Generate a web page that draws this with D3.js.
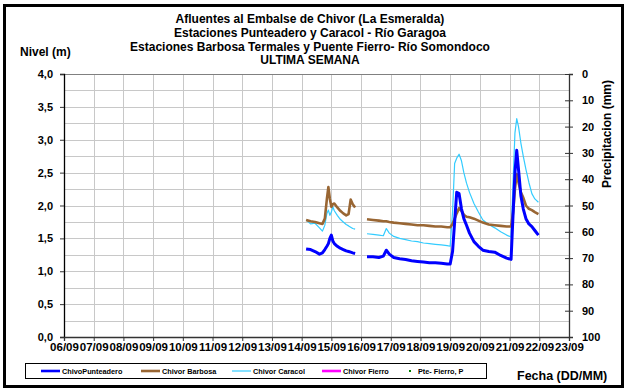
<!DOCTYPE html>
<html><head><meta charset="utf-8">
<script src="https://cdn.jsdelivr.net/npm/d3@7"></script>
<style>
body{margin:0;padding:0;background:#fff;}
svg{display:block;font-family:Arial,"Liberation Sans",sans-serif;}
</style></head>
<body>
<svg id="c" width="627" height="390"></svg>
<script>
// ---- data ----
const titleLines = ["Afluentes al Embalse de Chivor (La Esmeralda)",
  "Estaciones Punteadero y Caracol - Río Garagoa",
  "Estaciones Barbosa Termales y Puente Fierro- Río Somondoco",
  "ULTIMA SEMANA"];
const dayTicks = [6,7,8,9,10,11,12,13,14,15,16,17,18,19,20,21,22,23];
const dayLabels = ["06/09","07/09","08/09","09/09","10/09","11/09","12/09","13/09","14/09","15/09","16/09","17/09","18/09","19/09","20/09","21/09","22/09","23/09"];
const levelTicks = [0,0.5,1,1.5,2,2.5,3,3.5,4];
const precipTicks = [0,10,20,30,40,50,60,70,80,90,100];
// time in day-of-month (null = gap)
const times = [14.15,14.3,14.45,14.6,14.7,14.78,14.85,14.9,14.95,15.0,15.05,15.1,15.2,15.3,15.4,15.5,15.58,15.65,15.72,15.8,
  15.95,
  16.2,16.4,16.6,16.75,16.85,16.95,17.1,17.3,17.5,17.7,17.9,18.1,18.3,18.5,18.7,18.9,19.0,19.08,19.15,19.22,19.3,19.38,19.46,19.55,19.65,19.8,19.95,20.1,20.3,20.5,20.7,20.9,21.05,21.12,21.18,21.24,21.3,21.38,21.46,21.55,21.65,21.75,21.85,21.97];
const punteadero = [1.34,1.33,1.30,1.26,1.28,1.33,1.38,1.42,1.50,1.55,1.46,1.42,1.38,1.35,1.33,1.31,1.30,1.29,1.28,1.27,
  null,
  1.22,1.22,1.21,1.23,1.32,1.26,1.21,1.19,1.18,1.16,1.15,1.14,1.13,1.13,1.12,1.11,1.11,1.30,1.75,2.20,2.18,1.95,1.80,1.70,1.58,1.45,1.38,1.32,1.30,1.29,1.24,1.20,1.18,1.90,2.50,2.84,2.55,2.15,1.95,1.80,1.72,1.68,1.62,1.55];
const barbosa = [1.78,1.76,1.75,1.73,1.72,1.80,2.10,2.28,2.10,1.98,2.02,2.03,1.97,1.92,1.88,1.85,1.87,2.09,2.02,1.97,
  null,
  1.79,1.78,1.77,1.76,1.76,1.75,1.74,1.73,1.72,1.71,1.70,1.70,1.69,1.68,1.68,1.67,1.67,1.72,1.80,1.88,1.96,1.92,1.86,1.83,1.82,1.80,1.77,1.74,1.71,1.70,1.69,1.68,1.68,1.90,2.25,2.48,2.35,2.20,2.12,2.00,1.95,1.93,1.90,1.87];
const caracol = [1.78,1.72,1.73,1.66,1.61,1.70,1.88,1.93,1.85,1.90,1.98,1.92,1.85,1.79,1.75,1.71,1.69,1.67,1.65,1.64,
  null,
  1.57,1.56,1.55,1.54,1.65,1.58,1.53,1.50,1.48,1.46,1.45,1.43,1.42,1.41,1.40,1.39,1.38,1.90,2.64,2.72,2.78,2.68,2.50,2.34,2.20,2.03,1.90,1.78,1.71,1.66,1.60,1.55,1.52,2.40,3.10,3.32,3.20,2.95,2.75,2.55,2.35,2.18,2.10,2.05];
const fierro = [];      // no data in this week
const pteFierroP = [];  // no data in this week
const seriesNames = ["ChivoPunteadero","Chivor Barbosa","Chivor Caracol","Chivor Fierro","Pte- Fierro, P"];
const seriesColors = ["#0000ff","#996633","#33ccff","#ff00ff","#008000"];

// ---- drawing ----
const svg = d3.select("#c");
const L = 64, R = 569, T = 74, B = 337;
const x = d3.scaleLinear().domain([6,23]).range([L,R]);
const y = d3.scaleLinear().domain([0,4]).range([B,T]);
const y2 = d3.scaleLinear().domain([0,100]).range([T,B]);

svg.append("rect").attr("x",4.5).attr("y",5.5).attr("width",618).attr("height",381)
  .attr("fill","#fff").attr("stroke","#000").attr("stroke-width",3);

// gridlines
const g = svg.append("g");
g.selectAll("line.h").data(d3.range(0,4.01,0.25)).join("line")
  .attr("x1",L).attr("x2",R).attr("y1",d=>Math.round(y(d))+0.5).attr("y2",d=>Math.round(y(d))+0.5)
  .attr("stroke","#c8c8c8").attr("stroke-width",1);
g.selectAll("line.v").data(dayTicks.slice(1,-1)).join("line")
  .attr("y1",T).attr("y2",B).attr("x1",d=>Math.round(x(d))+0.5).attr("x2",d=>Math.round(x(d))+0.5)
  .attr("stroke","#c8c8c8").attr("stroke-width",1);
// top border line
svg.append("line").attr("x1",L).attr("x2",R).attr("y1",T+0.5).attr("y2",T+0.5).attr("stroke","#808080");

// axes
const fmt = d3.format(".1f");
const yAx = svg.append("g").attr("transform",`translate(${L},0)`)
  .call(d3.axisLeft(y).tickValues(levelTicks).tickSize(4).tickPadding(7).tickFormat(d=>fmt(d).replace(".",",")));
const xAx = svg.append("g").attr("transform",`translate(0,${B})`)
  .call(d3.axisBottom(x).tickValues(dayTicks).tickSize(4).tickPadding(2).tickFormat((d,i)=>dayLabels[i]));
const y2Ax = svg.append("g").attr("transform",`translate(${R},0)`)
  .call(d3.axisRight(y2).tickValues(precipTicks).tickSize(4).tickPadding(9));
[yAx,xAx,y2Ax].forEach(a=>{
  a.selectAll("text").attr("font-size","11px").attr("font-weight","bold").attr("fill","#000")
   .attr("font-family","Arial, 'Liberation Sans', sans-serif");
  a.select(".domain").attr("stroke","#333").attr("stroke-width",1.3);
  a.selectAll(".tick line").attr("stroke","#333");
});
y2Ax.selectAll(".tick line").attr("x1",-4);
y2Ax.selectAll("text").attr("x",13);
xAx.selectAll("text").attr("font-size","11.5px");
yAx.select(".domain").attr("stroke","#000");

// series lines
const line = d3.line().defined((d,i)=>d!=null && times[i]!=null)
  .x((d,i)=>x(times[i])).y(d=>y(d));
const series = [
  {vals:caracol, c:seriesColors[2], w:1.2},
  {vals:barbosa, c:seriesColors[1], w:2.6},
  {vals:punteadero, c:seriesColors[0], w:3}
];
series.forEach(s=>{
  svg.append("path").attr("d",line(s.vals)).attr("fill","none")
    .attr("stroke",s.c).attr("stroke-width",s.w).attr("stroke-linejoin","round");
});

// titles
svg.selectAll("text.title").data(titleLines).join("text")
  .attr("x",310).attr("y",(d,i)=>23+i*13.8).attr("text-anchor","middle")
  .attr("font-size","12px").attr("font-weight","bold").text(d=>d);
svg.append("text").attr("x",20).attr("y",56).attr("font-size","12px").attr("font-weight","bold").text("Nivel (m)");
svg.append("text").attr("transform","translate(611,134) rotate(-90)").attr("text-anchor","middle")
  .attr("font-size","12px").attr("font-weight","bold").text("Precipitacion (mm)");
svg.append("text").attr("x",517).attr("y",380).attr("font-size","12.5px").attr("font-weight","bold").text("Fecha (DD/MM)");

// legend
const lg = svg.append("g");
lg.append("rect").attr("x",25.5).attr("y",363.5).attr("width",461).attr("height",15)
  .attr("fill","#fff").attr("stroke","#000").attr("stroke-width",1);
const lgX = [41,141,232,322,410];
seriesNames.forEach((n,i)=>{
  if(i<4){
    lg.append("line").attr("x1",lgX[i]).attr("x2",lgX[i]+19).attr("y1",371).attr("y2",371)
      .attr("stroke",seriesColors[i]).attr("stroke-width",i===2?1.2:2.6);
    lg.append("text").attr("x",lgX[i]+21).attr("y",373.5).attr("font-size","7.3px").attr("font-weight","bold").text(n);
  } else {
    lg.append("rect").attr("x",lgX[i]-1).attr("y",370).attr("width",2).attr("height",2).attr("fill",seriesColors[i]);
    lg.append("text").attr("x",lgX[i]+8).attr("y",373.5).attr("font-size","7.3px").attr("font-weight","bold").text(n);
  }
});
</script>
</body></html>
